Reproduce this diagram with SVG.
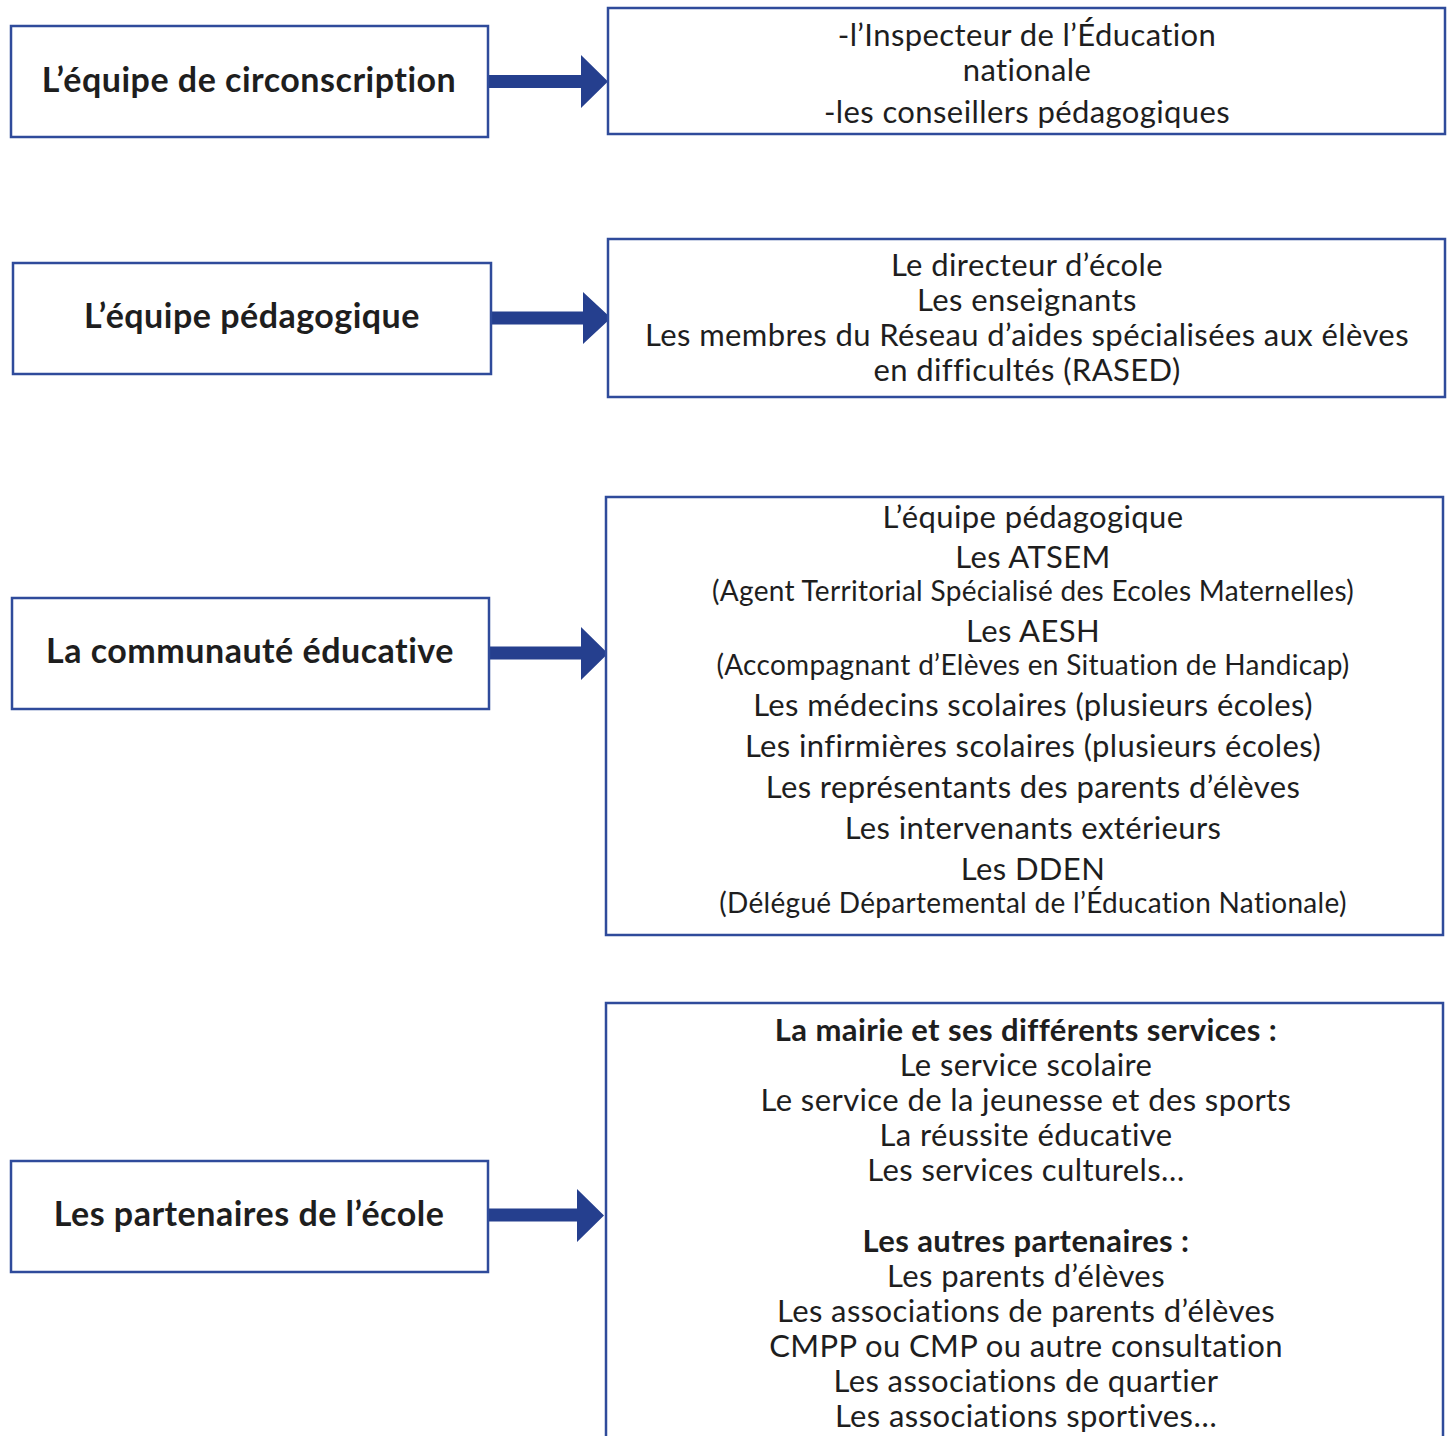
<svg xmlns="http://www.w3.org/2000/svg" width="1453" height="1436" viewBox="0 0 1453 1436">
<style>
.box{fill:#fff;stroke:#2f4b9b;stroke-width:2.5}
.arrow{fill:#253f8e}
.lbl{font-family:Lato,"Liberation Sans",sans-serif;font-weight:bold;font-size:34px;letter-spacing:0.5px;fill:#1e1e1e;text-anchor:middle}
.t{font-family:Lato,"Liberation Sans",sans-serif;font-size:31px;letter-spacing:0.4px;fill:#1e1e1e;text-anchor:middle}
.s{font-family:Lato,"Liberation Sans",sans-serif;font-size:28px;letter-spacing:0.3px;fill:#1e1e1e;text-anchor:middle}
.b{font-weight:bold}
</style>
<rect width="1453" height="1436" fill="#fff"/>
<g id="connectors">
<polygon class="arrow" points="488,75 581,75 581,55 608,81.5 581,108 581,88 488,88"/>
<polygon class="arrow" points="491,311.5 583,311.5 583,292 611,318 583,344 583,324.5 491,324.5"/>
<polygon class="arrow" points="489,646.5 581,646.5 581,627 608,653.5 581,680 581,659.5 489,659.5"/>
<polygon class="arrow" points="483,1208.5 577,1208.5 577,1189 604,1215.5 577,1242 577,1221.5 483,1221.5"/>
</g>
<g id="n1">
<rect class="box" x="11" y="26" width="477" height="111"/>
<text class="lbl" x="249" y="92">L’équipe de circonscription</text>
</g>
<g id="n1d">
<rect class="box" x="608" y="8" width="837" height="126"/>
<text class="t" x="1027" y="46">-l’Inspecteur de l’Éducation</text>
<text class="t" x="1027" y="81">nationale</text>
<text class="t" x="1027" y="123">-les conseillers pédagogiques</text>
</g>
<g id="n2">
<rect class="box" x="13" y="263" width="478" height="111"/>
<text class="lbl" x="252" y="328">L’équipe pédagogique</text>
</g>
<g id="n2d">
<rect class="box" x="608" y="239" width="837" height="158"/>
<text class="t" x="1027" y="276">Le directeur d’école</text>
<text class="t" x="1027" y="311">Les enseignants</text>
<text class="t" x="1027" y="346">Les membres du Réseau d’aides spécialisées aux élèves</text>
<text class="t" x="1027" y="381">en difficultés (RASED)</text>
</g>
<g id="n3">
<rect class="box" x="12" y="598" width="477" height="111"/>
<text class="lbl" x="250" y="663">La communauté éducative</text>
</g>
<g id="n3d">
<rect class="box" x="606" y="497" width="837" height="438"/>
<text class="t" x="1033" y="528">L’équipe pédagogique</text>
<text class="t" x="1033" y="568">Les ATSEM</text>
<text class="s" x="1033" y="601">(Agent Territorial Spécialisé des Ecoles Maternelles)</text>
<text class="t" x="1033" y="642">Les AESH</text>
<text class="s" x="1033" y="675">(Accompagnant d’Elèves en Situation de Handicap)</text>
<text class="t" x="1033" y="716">Les médecins scolaires (plusieurs écoles)</text>
<text class="t" x="1033" y="757">Les infirmières scolaires (plusieurs écoles)</text>
<text class="t" x="1033" y="798">Les représentants des parents d’élèves</text>
<text class="t" x="1033" y="839">Les intervenants extérieurs</text>
<text class="t" x="1033" y="880">Les DDEN</text>
<text class="s" x="1033" y="913">(Délégué Départemental de l’Éducation Nationale)</text>
</g>
<g id="n4">
<rect class="box" x="11" y="1161" width="477" height="111"/>
<text class="lbl" x="249" y="1226">Les partenaires de l’école</text>
</g>
<g id="n4d">
<rect class="box" x="606" y="1003" width="837" height="460"/>
<text class="t b" x="1026" y="1041">La mairie et ses différents services :</text>
<text class="t" x="1026" y="1076">Le service scolaire</text>
<text class="t" x="1026" y="1111">Le service de la jeunesse et des sports</text>
<text class="t" x="1026" y="1146">La réussite éducative</text>
<text class="t" x="1026" y="1181">Les services culturels…</text>
<text class="t b" x="1026" y="1252">Les autres partenaires :</text>
<text class="t" x="1026" y="1287">Les parents d’élèves</text>
<text class="t" x="1026" y="1322">Les associations de parents d’élèves</text>
<text class="t" x="1026" y="1357">CMPP ou CMP ou autre consultation</text>
<text class="t" x="1026" y="1392">Les associations de quartier</text>
<text class="t" x="1026" y="1427">Les associations sportives…</text>
</g>
</svg>
